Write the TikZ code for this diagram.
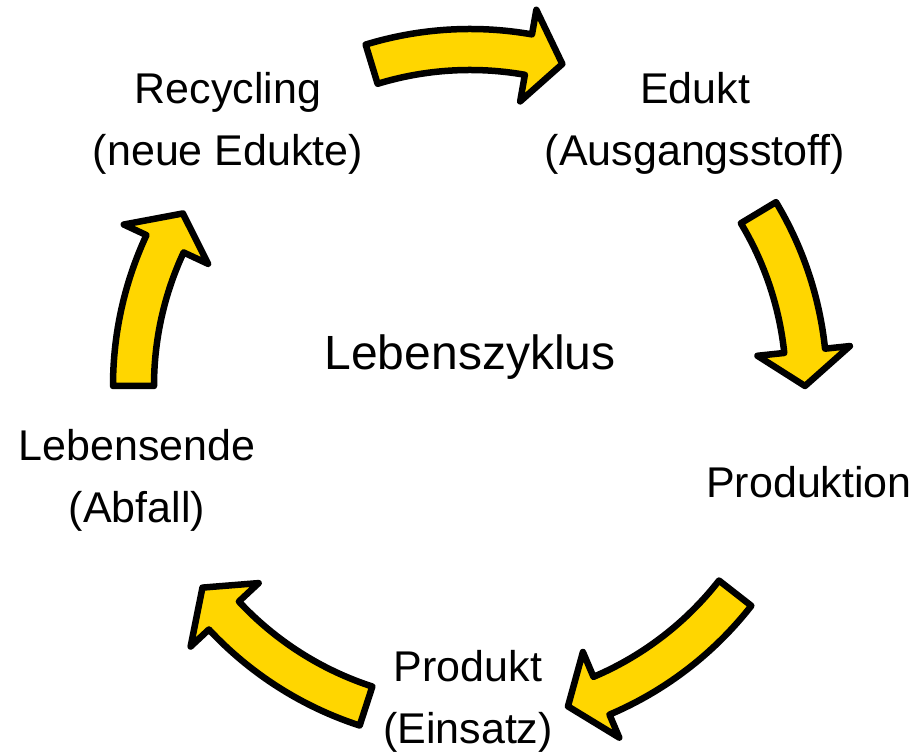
\documentclass[tikz,border=0pt]{standalone}
\usepackage{fontspec}
\setmainfont{Liberation Sans}
\definecolor{arrowyellow}{RGB}{255,214,0}
\tikzset{
  stage/.style={align=center,font=\fontsize{43}{62}\selectfont},
  title/.style={font=\fontsize{48}{57}\selectfont},
  cyclearrow/.style={draw=black,fill=arrowyellow,line width=6.5pt,line join=round}
}
\begin{document}
\begin{tikzpicture}[x=1pt,y=1pt]
    \useasboundingbox (0,0) rectangle (918,754);
    \def\rin{316}
    \def\rout{357}
    \def\rmid{335}
    \def\bin{289}
    \def\bout{382}
    \def\cyclearr#1#2#3{%
      \path[cyclearrow] (#1:\rout) arc[start angle=#1,end angle=#2,radius=\rout pt]
        -- (#2:\bout) -- (#3:\rmid) -- (#2:\bin) -- (#2:\rin)
        arc[start angle=#2,end angle=#1,radius=\rin pt] -- cycle;}
    \coordinate (Z0) at (470,368);
    \node (Z) at (470,397) [title] {Lebenszyklus};
    \node (A0) at (695,631) [stage] {Edukt\\(Ausgangsstoff)};
    \node (A1) at (809,272) [stage] {Produktion};
    \node (A2) at (468,53) [stage] {Produkt\\(Einsatz)};
    \node (A3) at (137,274) [stage] {Lebensende\\(Abfall)};
    \node (A4) at (228,631) [stage] {Recycling\\(neue Edukte)};
    \begin{scope}[shift={(Z0)}]
      \cyclearr{107}{80}{74}   % A4 -> A0
      \cyclearr{31}{6}{0}      % A0 -> A1
      \cyclearr{-38}{-67}{-73} % A1 -> A2
      \cyclearr{-108}{-137}{-143} % A2 -> A3
      \cyclearr{180}{155}{149} % A3 -> A4
    \end{scope}
  \end{tikzpicture}
\end{document}
